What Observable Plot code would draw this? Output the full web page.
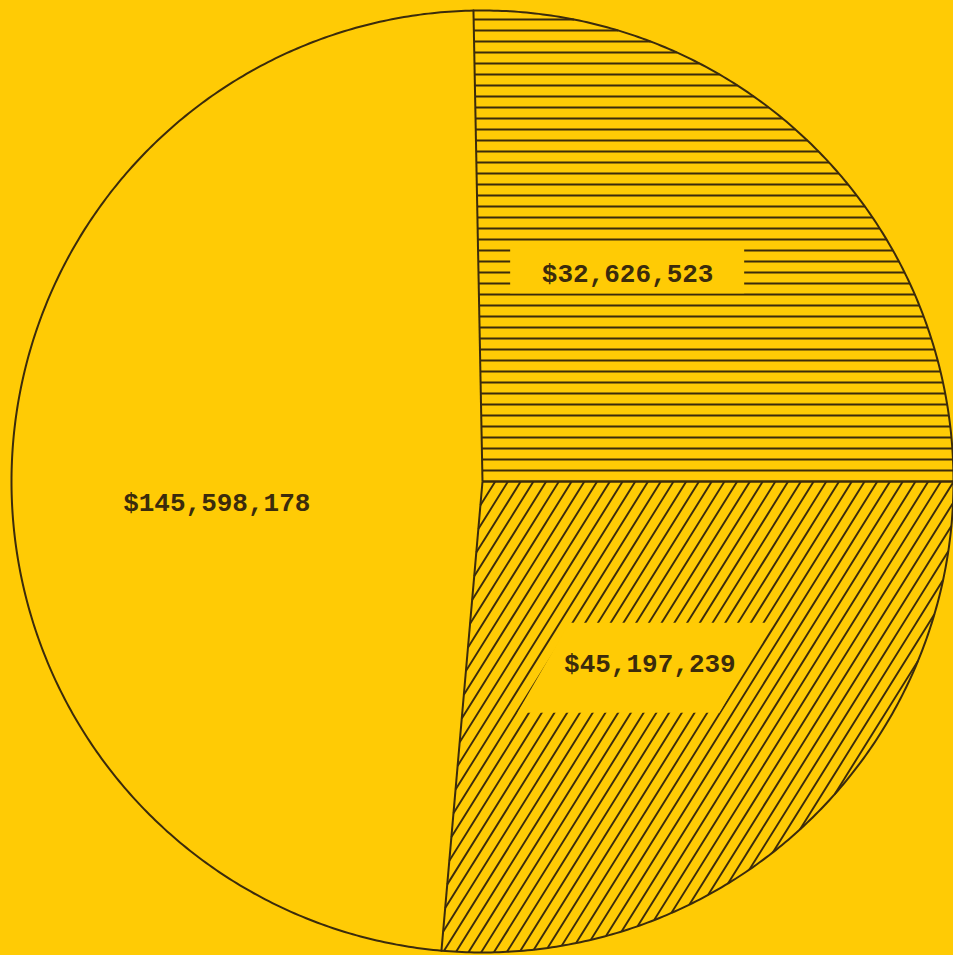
<!DOCTYPE html>
<html>
<head>
<meta charset="utf-8">
<script src="https://cdn.jsdelivr.net/npm/d3@7"></script>
<script src="https://cdn.jsdelivr.net/npm/@observablehq/plot@0.6"></script>
<style>
  html, body { margin: 0; padding: 0; background: #FFCB05; }
  #chart { width: 953px; height: 955px; overflow: hidden; }
</style>
</head>
<body>
<div id="chart"></div>
<script>
// ---- data ----
const labels = ["$32,626,523", "$45,197,239", "$145,598,178"];
const amounts = [32626523, 45197239, 145598178];
// sweep of each slice as it is drawn in the picture (degrees, clockwise from 12 o'clock)
const drawnDegrees = [91.1, 95.0, 173.9];
const startDegree = -1.1;
const hatchStyle = ["horizontal", "diagonal", "none"];

// ---- layout & style ----
const W = 953, H = 955;
const layout = { cx: 482, cy: 481, rpx: 471 };
const bg = "#FFCB05";
const ink = "#3b2b0c";
const labelTurn = [-9.5, 0, -6.5];        // degrees
const labelRadius = [0.538, 0.526, 0.566]; // fraction of radius
const rad = Math.PI / 180;

const pie = d3.pie().sort(null).value(d => d).startAngle(startDegree * rad)
  .endAngle((startDegree + 360) * rad);
const arcs = pie(drawnDegrees).map((a, i) => ({...a, label: labels[i], amount: amounts[i], hatch: hatchStyle[i], i}));

const R = layout.rpx;
const px = v => v / R; // pixels -> data units

// outline of each slice
const outline = [];
for (const a of arcs) {
  const n = Math.ceil((a.endAngle - a.startAngle) / (0.5 * rad));
  for (let k = 0; k <= n; k++) {
    const t = a.startAngle + (a.endAngle - a.startAngle) * k / n;
    outline.push({x: Math.sin(t), y: Math.cos(t), slice: a.i});
  }
}
const radials = arcs.map(a => ({x1: 0, y1: 0, x2: Math.sin(a.startAngle), y2: Math.cos(a.startAngle)}));

// hatching clipped to a (convex) slice
function hatch(a, dirDeg, spacingPx) {
  const d = [Math.cos(dirDeg * rad), Math.sin(dirDeg * rad)];
  const n = [-d[1], d[0]];
  const s = px(spacingPx);
  const u0 = [Math.sin(a.startAngle), Math.cos(a.startAngle)];
  const u1 = [Math.sin(a.endAngle), Math.cos(a.endAngle)];
  const cross = (p, q) => p[0] * q[1] - p[1] * q[0];
  const segs = [];
  for (let k = -200; k <= 200; k++) {
    const off = k * s;
    if (Math.abs(off) >= 1) continue;
    const p0 = [n[0] * off, n[1] * off];
    let tmin = -Math.sqrt(1 - off * off), tmax = -tmin;
    const cons = (c, kk) => { // c + t*kk <= 0
      if (Math.abs(kk) < 1e-12) { if (c > 0) tmax = -Infinity; return; }
      const t = -c / kk;
      if (kk > 0) tmax = Math.min(tmax, t); else tmin = Math.max(tmin, t);
    };
    cons(cross(u0, p0), cross(u0, d));
    cons(-cross(u1, p0), -cross(u1, d));
    if (tmax - tmin > 1e-4) {
      segs.push({x1: p0[0] + tmin * d[0], y1: p0[1] + tmin * d[1], x2: p0[0] + tmax * d[0], y2: p0[1] + tmax * d[1]});
    }
  }
  return segs;
}
const hatchSegs = [];
for (const a of arcs) {
  if (a.hatch === "horizontal") hatchSegs.push(...hatch(a, 0, 11));
  if (a.hatch === "diagonal") hatchSegs.push(...hatch(a, 58, 10.8));
}

// label anchors
const labelRows = arcs.map(a => {
  const t = (a.startAngle + a.endAngle) / 2 + labelTurn[a.i] * rad;
  const r = labelRadius[a.i];
  return {x: r * Math.sin(t), y: r * Math.cos(t), text: a.label, hatch: a.hatch};
});

// cleared areas behind labels inside hatched slices
const rectCovers = labelRows.filter(d => d.hatch === "horizontal").map(d => ({
  x1: d.x - px(117), x2: d.x + px(117), y1: d.y + px(26), y2: d.y - px(20)
}));
const slantCovers = [];
labelRows.filter(d => d.hatch === "diagonal").forEach((d, j) => {
  slantCovers.push({y: d.y + px(41), x1: d.x - px(80), x2: d.x + px(122), g: j});
  slantCovers.push({y: d.y - px(49), x1: d.x - px(132), x2: d.x + px(70), g: j});
});

const chart = Plot.plot({
  width: W, height: H,
  margin: 0,
  style: {background: bg},
  x: {domain: [-layout.cx / R, (W - layout.cx) / R], axis: null},
  y: {domain: [-(H - layout.cy) / R, layout.cy / R], axis: null},
  marks: [
    Plot.link(hatchSegs, {x1: "x1", y1: "y1", x2: "x2", y2: "y2", stroke: ink, strokeWidth: 1.9}),
    Plot.rect(rectCovers, {x1: "x1", x2: "x2", y1: "y1", y2: "y2", fill: bg}),
    Plot.areaX(slantCovers, {y: "y", x1: "x1", x2: "x2", z: "g", fill: bg}),
    Plot.link(radials, {x1: "x1", y1: "y1", x2: "x2", y2: "y2", stroke: ink, strokeWidth: 2}),
    Plot.line(outline, {x: "x", y: "y", z: "slice", stroke: ink, strokeWidth: 2}),
    Plot.text(labelRows, {x: "x", y: "y", text: "text", fill: ink,
      fontFamily: "Liberation Mono", fontSize: 26, fontWeight: "bold",
      textAnchor: "middle", lineAnchor: "middle"})
  ]
});
document.getElementById("chart").append(chart);
</script>
</body>
</html>
